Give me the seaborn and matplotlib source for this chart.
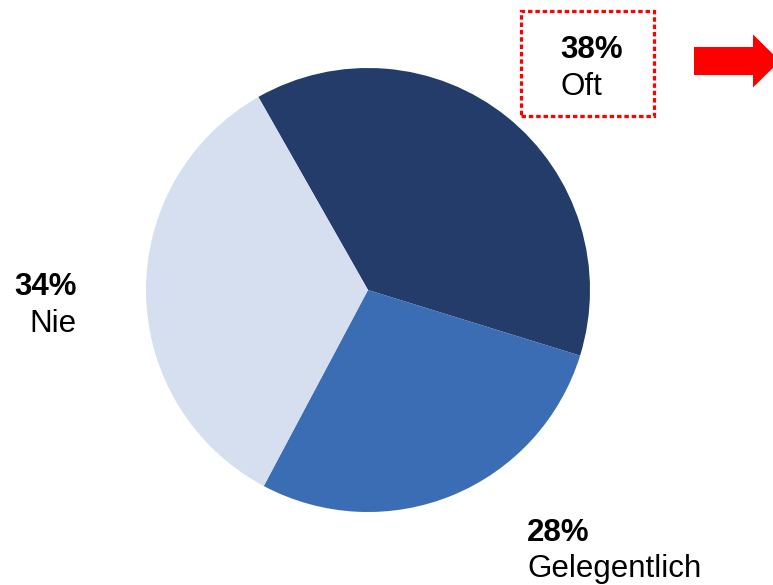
import matplotlib
matplotlib.use("Agg")
import matplotlib.pyplot as plt
from matplotlib.patches import Rectangle, FancyArrow
import seaborn as sns

# Share of answers
categories = ["Oft", "Gelegentlich", "Nie"]
shares = [38, 28, 34]
percent_labels = ["38%", "28%", "34%"]
colors = ["#243C69", "#3A6DB3", "#D5DFF0"]

sns.set_theme(style="white")
plt.rcParams["font.family"] = ["Liberation Sans", "DejaVu Sans"]
plt.rcParams["text.color"] = "black"

W, H = 773, 585
fig = plt.figure(figsize=(W / 100, H / 100), dpi=100)
ax = fig.add_axes([0, 0, 1, 1])

ax.pie(shares, colors=colors, startangle=119.6, counterclock=False,
       center=(368, H - 290), radius=222,
       wedgeprops=dict(linewidth=0))

ax.set_xlim(0, W)
ax.set_ylim(0, H)
ax.set_aspect("equal")
ax.axis("off")

fs = 22.5
# Oft label inside dotted highlight box
ax.text(560, H - 58, percent_labels[0], fontsize=fs, fontweight="bold", ha="left", va="baseline")
ax.text(560, H - 95, categories[0], fontsize=fs, ha="left", va="baseline")
ax.add_patch(Rectangle((521, H - 116), 133, 105, fill=False, edgecolor="#FF0000",
                       linewidth=2.3, linestyle=(0, (1.4, 0.9))))

# Gelegentlich
ax.text(527, H - 541, percent_labels[1], fontsize=fs, fontweight="bold", ha="left", va="baseline")
ax.text(527, H - 577, categories[1], fontsize=fs, ha="left", va="baseline")

# Nie
ax.text(77, H - 295, percent_labels[2], fontsize=fs, fontweight="bold", ha="right", va="baseline")
ax.text(76, H - 332, categories[2], fontsize=fs, ha="right", va="baseline")

# Red pointer arrow
ax.add_patch(FancyArrow(694, H - 61, 59 + 27, 0, width=28, head_width=53, head_length=27,
                        length_includes_head=True, color="#FF0000", linewidth=0))

fig.savefig("out.png", dpi=100)
